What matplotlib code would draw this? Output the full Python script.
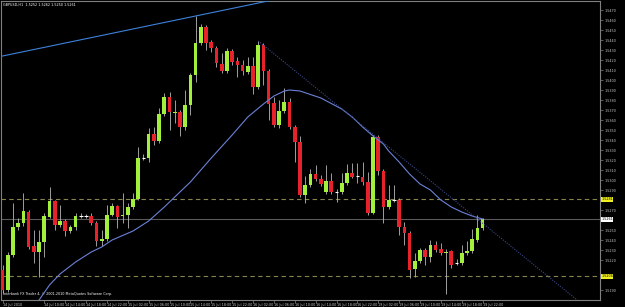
import matplotlib
matplotlib.use('Agg')
from matplotlib import pyplot as plt
import numpy as np
import pandas as pd

symbol = 'GBPUSD,H1'
first_bar = '2010-07-14 02:00'

opens = [1.5210, 1.5190, 1.5225, 1.5253, 1.5257, 1.5268, 1.5234, 1.5228, 1.5238, 1.5263,
         1.5279, 1.5255, 1.5259, 1.5249, 1.5253, 1.5264, 1.5264, 1.5264, 1.5257, 1.5239,
         1.5241, 1.5265, 1.5274, 1.5264, 1.5265, 1.5273, 1.5281, 1.5322, 1.5322, 1.5346,
         1.5339, 1.5366, 1.5383, 1.5367, 1.5368, 1.5353, 1.5375, 1.5405, 1.5437, 1.5453,
         1.5438, 1.5432, 1.5416, 1.5409, 1.5429, 1.5419, 1.5415, 1.5408, 1.5414, 1.5393,
         1.5435, 1.5409, 1.5377, 1.5355, 1.5369, 1.5378, 1.5353, 1.5338, 1.5285, 1.5295,
         1.5306, 1.5301, 1.5288, 1.5299, 1.5288, 1.5288, 1.5297, 1.5307, 1.5304, 1.5303,
         1.5298, 1.5267, 1.5343, 1.5309, 1.5273, 1.5280, 1.5280, 1.5253, 1.5247, 1.5211,
         1.5219, 1.5230, 1.5223, 1.5235, 1.5231, 1.5227, 1.5229, 1.5217, 1.5217, 1.5227,
         1.5229, 1.5240, 1.5252]
closes = [1.5190, 1.5225, 1.5253, 1.5257, 1.5269, 1.5233, 1.5228, 1.5238, 1.5264, 1.5279,
          1.5255, 1.5259, 1.5249, 1.5253, 1.5264, 1.5264, 1.5264, 1.5257, 1.5239, 1.5241,
          1.5265, 1.5274, 1.5263, 1.5265, 1.5273, 1.5281, 1.5322, 1.5322, 1.5346, 1.5339,
          1.5366, 1.5383, 1.5368, 1.5368, 1.5353, 1.5375, 1.5405, 1.5437, 1.5453, 1.5437,
          1.5432, 1.5417, 1.5409, 1.5429, 1.5418, 1.5415, 1.5409, 1.5414, 1.5393, 1.5435,
          1.5409, 1.5376, 1.5355, 1.5369, 1.5378, 1.5353, 1.5338, 1.5285, 1.5295, 1.5306,
          1.5301, 1.5296, 1.5299, 1.5288, 1.5288, 1.5297, 1.5307, 1.5303, 1.5304, 1.5298,
          1.5267, 1.5343, 1.5309, 1.5273, 1.5280, 1.5280, 1.5253, 1.5247, 1.5210, 1.5219,
          1.5230, 1.5223, 1.5235, 1.5230, 1.5227, 1.5228, 1.5215, 1.5217, 1.5227, 1.5229,
          1.5241, 1.5252, 1.5261]
highs = [1.5215, 1.5228, 1.5277, 1.5262, 1.5287, 1.5270, 1.5250, 1.5250, 1.5267, 1.5293,
         1.5280, 1.5275, 1.5261, 1.5255, 1.5267, 1.5267, 1.5266, 1.5267, 1.5259, 1.5250,
         1.5275, 1.5277, 1.5275, 1.5287, 1.5277, 1.5287, 1.5333, 1.5326, 1.5352, 1.5353,
         1.5372, 1.5387, 1.5388, 1.5380, 1.5370, 1.5390, 1.5407, 1.5464, 1.5456, 1.5455,
         1.5440, 1.5434, 1.5427, 1.5432, 1.5431, 1.5423, 1.5420, 1.5423, 1.5423, 1.5439,
         1.5437, 1.5411, 1.5383, 1.5380, 1.5392, 1.5382, 1.5355, 1.5344, 1.5304, 1.5311,
         1.5315, 1.5305, 1.5315, 1.5307, 1.5291, 1.5307, 1.5316, 1.5317, 1.5317, 1.5318,
         1.5308, 1.5345, 1.5345, 1.5311, 1.5295, 1.5295, 1.5282, 1.5258, 1.5249, 1.5227,
         1.5232, 1.5232, 1.5240, 1.5239, 1.5237, 1.5231, 1.5230, 1.5221, 1.5235, 1.5239,
         1.5251, 1.5265, 1.5262]
lows = [1.5187, 1.5188, 1.5223, 1.5250, 1.5254, 1.5231, 1.5217, 1.5203, 1.5223, 1.5262,
        1.5250, 1.5253, 1.5244, 1.5247, 1.5250, 1.5262, 1.5262, 1.5255, 1.5234, 1.5234,
        1.5239, 1.5264, 1.5252, 1.5257, 1.5252, 1.5271, 1.5280, 1.5320, 1.5318, 1.5335,
        1.5337, 1.5364, 1.5350, 1.5357, 1.5344, 1.5350, 1.5365, 1.5398, 1.5435, 1.5430,
        1.5428, 1.5413, 1.5407, 1.5407, 1.5415, 1.5403, 1.5405, 1.5406, 1.5386, 1.5391,
        1.5395, 1.5360, 1.5353, 1.5352, 1.5367, 1.5351, 1.5318, 1.5283, 1.5277, 1.5293,
        1.5299, 1.5294, 1.5286, 1.5286, 1.5278, 1.5286, 1.5295, 1.5302, 1.5297, 1.5295,
        1.5265, 1.5266, 1.5305, 1.5257, 1.5271, 1.5278, 1.5245, 1.5235, 1.5202, 1.5203,
        1.5217, 1.5215, 1.5218, 1.5228, 1.5225, 1.5186, 1.5212, 1.5215, 1.5215, 1.5225,
        1.5227, 1.5238, 1.5250]

# moving average read at some bars
ma_bars = [6, 7, 9, 11, 14, 17, 19, 21, 25, 28, 31, 33, 35, 36, 40, 44, 47, 50, 52, 54,
           55, 57, 61, 65, 67, 69, 71, 73, 74, 76, 78, 80, 82, 84, 86, 88, 90, 92]
ma_values = [1.5172, 1.5180, 1.5195, 1.5206, 1.5218, 1.5228, 1.5233, 1.5240, 1.5249, 1.5259,
             1.5273, 1.5283, 1.5293, 1.5298, 1.5322, 1.5345, 1.5363, 1.5376, 1.5384, 1.5389,
             1.5390, 1.5389, 1.5382, 1.5371, 1.5363, 1.5353, 1.5344, 1.5336, 1.5329, 1.5318,
             1.5306, 1.5296, 1.5290, 1.5280, 1.5273, 1.5268, 1.5264, 1.5261]

# trendlines: two anchor points (bar, price), drawn as rays
trend_up = [(0, 1.5424), (37, 1.5464)]
trend_down = [(49, 1.5439), (91, 1.5261)]
levels = [1.5281, 1.5204]
bid = 1.5261

BULL = '#a2f03c'
BEAR = '#e8222a'
WICK = '#b8b8b8'
GRID = '#808080'
TXT = '#c8c8c8'

o = np.array(opens)
c = np.array(closes)
h = np.array(highs)
l = np.array(lows)
n = len(o)
x = np.arange(n)

fig = plt.figure(figsize=(6.25, 3.07), dpi=100)
fig.patch.set_facecolor('black')
ax = fig.add_axes([1 / 625, 7 / 307, 599 / 625, 299 / 307])
ax.set_facecolor('black')
ax.set_xlim(-0.3, 114.5)
ax.set_ylim(1.5180, 1.5479)

# levels and bid line
for lv in levels:
    ax.axhline(lv, color='#85844f', lw=0.8, dashes=(4, 3), zorder=1)
ax.axhline(bid, color='#5a5a5a', lw=0.8, zorder=1)

# candles
ax.vlines(x, l, h, color=WICK, lw=0.6, zorder=2)
bull = c > o
bear = c < o
doji = c == o
ax.bar(x[bull], (c - o)[bull], bottom=o[bull], width=0.7, color=BULL, zorder=3)
ax.bar(x[bear], (o - c)[bear], bottom=c[bear], width=0.7, color=BEAR, zorder=3)
ax.hlines(o[doji], x[doji] - 0.35, x[doji] + 0.35, color='white', lw=0.8, zorder=3)

# moving average
ax.plot(ma_bars, ma_values, color='#6b82d8', lw=0.8, zorder=4)

# trendlines
xr = np.array([-1, 120])
(x0, y0), (x1, y1) = trend_up
ax.plot(xr, y0 + (y1 - y0) / (x1 - x0) * (xr - x0), color='#3d82dc', lw=0.8, zorder=4)
(x0, y0), (x1, y1) = trend_down
xr2 = np.array([x0, 120])
ax.plot(xr2, y0 + (y1 - y0) / (x1 - x0) * (xr2 - x0), color='#3a4886', lw=0.8,
        linestyle=(0, (1, 1.2)), zorder=4)

# axes look
for s in ax.spines.values():
    s.set_color(GRID)
    s.set_linewidth(0.8)

# price scale; labels hidden under the boxed prices, as the terminal does
boxed = levels + [bid]
yt = [v for v in np.arange(1.5190, 1.5475, 0.0010)
      if min(abs(v - b) for b in boxed) > 0.0006]
ax.yaxis.tick_right()
ax.set_yticks(yt, [f'{v:.4f}' for v in yt])
ax.tick_params(axis='y', colors=GRID, labelcolor=TXT, labelsize=2.4, length=2, width=0.5, pad=1)

times = pd.date_range(first_bar, periods=200, freq='h')
times = times[times.weekday < 5][:n]
tpos, tlab = [0], [times[0].strftime('%d %b %Y')]
for i in range(8, n):
    if times[i].hour % 4 == 2:
        tpos.append(i)
        tlab.append(times[i].strftime('%d %b %H:%M'))
ax.set_xticks(tpos, tlab)
ax.tick_params(axis='x', colors=GRID, labelcolor=TXT, labelsize=2.4, length=2, width=0.5, pad=0.5)
for t in ax.get_xticklabels():
    t.set_ha('left')

# price boxes on the axis
yx = ax.get_yaxis_transform()
for lv in levels:
    ax.text(1.002, lv, f'{lv:.4f}', transform=yx, fontsize=2.4, color='black', va='center',
            ha='left', bbox=dict(boxstyle='square,pad=0.15', fc='#f0f020', ec='none'), zorder=6)
ax.text(1.002, bid, f'{bid:.4f}', transform=yx, fontsize=2.4, color='black', va='center',
        ha='left', bbox=dict(boxstyle='square,pad=0.15', fc='white', ec='none'), zorder=6)

ax.text(0.003, 0.994, f'{symbol}  {opens[-1]:.4f} {highs[-1]:.4f} {lows[-1]:.4f} {closes[-1]:.4f}',
        transform=ax.transAxes, fontsize=2.4, color='white', va='top', ha='left')
ax.text(0.003, 0.012, 'Interbank FX Trader 4, \u00a9 2001-2010 MetaQuotes Software Corp.',
        transform=ax.transAxes, fontsize=2.4, color='white', va='bottom', ha='left')

fig.savefig('out.png', dpi=100, facecolor='black')
